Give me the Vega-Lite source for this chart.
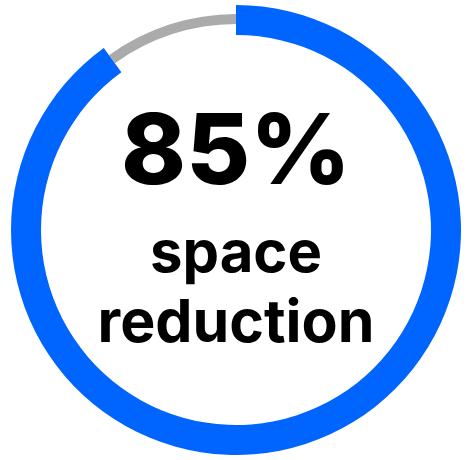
{
  "$schema": "https://vega.github.io/schema/vega-lite/v6.json",
  "autosize": {"type": "fit", "contains": "padding"},
  "padding": {"left": 3, "right": 0, "top": 0, "bottom": 0},
  "width": 469,
  "height": 460,
  "background": "white",
  "config": {"view": {"stroke": null}},
  "datasets": {
    "ring": [
      {"part": "filled", "start": 0, "end": 90},
      {"part": "rest", "start": 90, "end": 100}
    ],
    "labels": [
      {"line": "value", "label": "85%"},
      {"line": "l1", "label": "space"},
      {"line": "l2", "label": "reduction"}
    ]
  },
  "layer": [
    {
      "data": {"name": "ring"},
      "transform": [{"filter": "datum.part === 'rest'"}],
      "mark": {"type": "arc", "outerRadius": 216, "innerRadius": 206, "color": "#ababab"},
      "encoding": {
        "theta": {"field": "start", "type": "quantitative", "scale": {"domain": [0, 100]}},
        "theta2": {"field": "end"}
      }
    },
    {
      "data": {"name": "ring"},
      "transform": [{"filter": "datum.part === 'filled'"}],
      "mark": {"type": "arc", "outerRadius": 225, "innerRadius": 195, "color": "#0064ff"},
      "encoding": {
        "theta": {"field": "start", "type": "quantitative", "scale": {"domain": [0, 100]}},
        "theta2": {"field": "end"}
      }
    },
    {
      "data": {"name": "labels"},
      "transform": [{"filter": "datum.line === 'value'"}],
      "mark": {"type": "text", "font": "Inter", "fontWeight": 800, "fontSize": 98, "baseline": "alphabetic", "align": "center", "dy": -46, "color": "#000000"},
      "encoding": {"text": {"field": "label"}}
    },
    {
      "data": {"name": "labels"},
      "transform": [{"filter": "datum.line === 'l1'"}],
      "mark": {"type": "text", "font": "Inter", "fontWeight": 700, "fontSize": 58, "baseline": "alphabetic", "align": "center", "dy": 42, "color": "#000000"},
      "encoding": {"text": {"field": "label"}}
    },
    {
      "data": {"name": "labels"},
      "transform": [{"filter": "datum.line === 'l2'"}],
      "mark": {"type": "text", "font": "Inter", "fontWeight": 700, "fontSize": 59, "baseline": "alphabetic", "align": "center", "dy": 112, "color": "#000000"},
      "encoding": {"text": {"field": "label"}}
    }
  ]
}
